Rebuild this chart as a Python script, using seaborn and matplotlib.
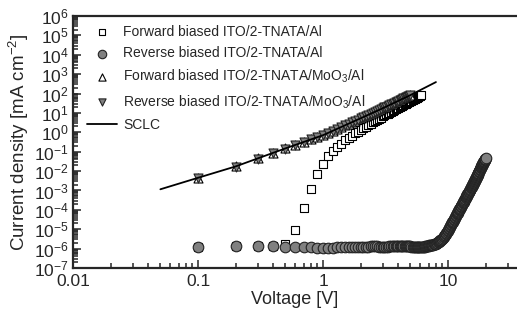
"""
plot.py

Curvas J-V (log-log) de dispositivos ITO/2-TNATA/Al e ITO/2-TNATA/MoO3/Al,
con el ajuste SCLC. Guarda la figura en out.png (517x320 px).
"""

import numpy as np
import matplotlib
matplotlib.use('Agg')
import matplotlib.pyplot as plt
import matplotlib.ticker as mticker
import seaborn as sns

# --- datos (barrido de tension en pasos de 0.1 V) ---

# Forward biased ITO/2-TNATA/Al  (0.1 ... 6.1 V)
j_fwd_al = [1.2e-6, 1.3e-6, 1.3e-6, 1.4e-6, 1.7e-6, 9e-6, 1.2e-4, 1.2e-3, 7e-3, 2.4e-2,
            5.9e-2, 0.11, 0.18, 0.26, 0.38, 0.51, 0.68, 0.87, 1.10, 1.35,
            1.62, 1.95, 2.34, 2.75, 3.24, 3.72, 4.37, 5.0, 5.75, 6.6,
            7.4, 8.3, 9.3, 10.2, 11.5, 12.6, 14.1, 15.5, 17.0, 18.6,
            20.0, 21.9, 24.0, 25.7, 28.2, 30.2, 33.1, 35.5, 38.0, 40.7,
            43.7, 46.8, 50.1, 53.7, 57.5, 61.7, 64.6, 69.2, 74.1, 77.6,
            83.2]

# Reverse biased ITO/2-TNATA/Al  (0.1 ... 20.0 V)
j_rev_al = [1.2e-6, 1.3e-6, 1.3e-6, 1.3e-6, 1.2e-6, 1.2e-6, 1.2e-6, 1.2e-6, 1.1e-6, 1.1e-6,
            1.1e-6, 1.1e-6, 1.2e-6, 1.2e-6, 1.2e-6, 1.2e-6, 1.2e-6, 1.2e-6, 1.2e-6, 1.2e-6,
            1.2e-6, 1.2e-6, 1.2e-6, 1.3e-6, 1.3e-6, 1.3e-6, 1.3e-6, 1.2e-6, 1.2e-6, 1.2e-6,
            1.2e-6, 1.2e-6, 1.2e-6, 1.3e-6, 1.3e-6, 1.3e-6, 1.3e-6, 1.3e-6, 1.3e-6, 1.3e-6,
            1.3e-6, 1.3e-6, 1.4e-6, 1.4e-6, 1.4e-6, 1.4e-6, 1.3e-6, 1.3e-6, 1.3e-6, 1.3e-6,
            1.2e-6, 1.2e-6, 1.2e-6, 1.2e-6, 1.2e-6, 1.2e-6, 1.2e-6, 1.2e-6, 1.2e-6, 1.2e-6,
            1.2e-6, 1.2e-6, 1.2e-6, 1.2e-6, 1.2e-6, 1.3e-6, 1.3e-6, 1.3e-6, 1.3e-6, 1.4e-6,
            1.45e-6, 1.5e-6, 1.5e-6, 1.55e-6, 1.6e-6, 1.6e-6, 1.65e-6, 1.7e-6, 1.75e-6, 1.8e-6,
            1.9e-6, 2.0e-6, 2.1e-6, 2.2e-6, 2.4e-6, 2.5e-6, 2.7e-6, 2.8e-6, 3.0e-6, 3.2e-6,
            3.5e-6, 3.9e-6, 4.3e-6, 4.8e-6, 5.3e-6, 5.9e-6, 6.5e-6, 7.2e-6, 8.0e-6, 8.9e-6,
            1.0e-5, 1.12e-5, 1.26e-5, 1.41e-5, 1.58e-5, 1.78e-5, 2.0e-5, 2.24e-5, 2.5e-5, 2.8e-5,
            3.1e-5, 3.5e-5, 3.8e-5, 4.3e-5, 4.7e-5, 5.2e-5, 5.8e-5, 6.5e-5, 7.2e-5, 7.9e-5,
            8.7e-5, 9.5e-5, 1.05e-4, 1.15e-4, 1.26e-4, 1.38e-4, 1.5e-4, 1.66e-4, 1.8e-4, 2.0e-4,
            2.2e-4, 2.4e-4, 2.6e-4, 2.9e-4, 3.2e-4, 3.5e-4, 3.8e-4, 4.2e-4, 4.6e-4, 5.0e-4,
            5.4e-4, 5.9e-4, 6.4e-4, 6.9e-4, 7.5e-4, 8.1e-4, 8.8e-4, 9.5e-4, 1.04e-3, 1.12e-3,
            1.22e-3, 1.32e-3, 1.43e-3, 1.55e-3, 1.68e-3, 1.82e-3, 1.97e-3, 2.14e-3, 2.3e-3, 2.5e-3,
            2.7e-3, 2.9e-3, 3.2e-3, 3.4e-3, 3.7e-3, 4.0e-3, 4.4e-3, 4.7e-3, 5.1e-3, 5.6e-3,
            6.1e-3, 6.6e-3, 7.1e-3, 7.7e-3, 8.4e-3, 9.1e-3, 9.8e-3, 1.07e-2, 1.16e-2, 1.26e-2,
            1.35e-2, 1.45e-2, 1.55e-2, 1.66e-2, 1.78e-2, 1.9e-2, 2.04e-2, 2.19e-2, 2.34e-2, 2.5e-2,
            2.65e-2, 2.8e-2, 3.0e-2, 3.15e-2, 3.3e-2, 3.55e-2, 3.75e-2, 4.0e-2, 4.2e-2, 4.5e-2]

# Forward / reverse biased ITO/2-TNATA/MoO3/Al  (0.1 ... 5.0 V)
j_fwd_moo3 = [4.5e-3, 1.74e-2, 4.5e-2, 8.7e-2, 0.148, 0.229, 0.324, 0.437, 0.562, 0.708,
              0.93, 1.20, 1.51, 1.87, 2.28, 2.75, 3.3, 3.9, 4.6, 5.3,
              6.1, 6.9, 7.9, 9.0, 10.1, 11.4, 12.7, 14.1, 15.7, 17.4,
              19.2, 21.2, 23.3, 25.5, 27.8, 30.2, 32.9, 35.6, 38.6, 41.7,
              45.0, 48.5, 52.0, 56.0, 60.0, 64.0, 69.0, 73.0, 78.0, 83.0]
j_rev_moo3 = [4.4e-3, 1.72e-2, 4.4e-2, 8.6e-2, 0.145, 0.225, 0.32, 0.43, 0.555, 0.70,
              0.92, 1.19, 1.50, 1.85, 2.26, 2.73, 3.28, 3.88, 4.57, 5.25,
              6.05, 6.85, 7.85, 8.95, 10.0, 11.3, 12.6, 14.0, 15.6, 17.3,
              19.1, 21.0, 23.1, 25.3, 27.6, 30.0, 32.7, 35.4, 38.4, 41.5,
              44.8, 48.2, 51.7, 55.7, 59.6, 63.6, 68.6, 72.6, 77.5, 82.5]

# ajuste SCLC
sclc_v = [0.05, 0.1, 0.2, 0.5, 1, 2, 3, 5, 8]
sclc_j = [1.15e-3, 4.5e-3, 1.74e-2, 0.148, 0.71, 5.3, 17.4, 83, 390]

labels = ['Forward biased ITO/2-TNATA/Al',
          'Reverse biased ITO/2-TNATA/Al',
          'Forward biased ITO/2-TNATA/MoO$_3$/Al',
          'Reverse biased ITO/2-TNATA/MoO$_3$/Al',
          'SCLC']


def sweep(n):
    # tensiones del barrido: 0.1, 0.2, ... (n puntos)
    return np.round(np.arange(1, n + 1) * 0.1, 1)


sns.set_style('ticks')
plt.rcParams['font.family'] = ['Liberation Sans', 'DejaVu Sans']
plt.rcParams['mathtext.fontset'] = 'custom'
plt.rcParams['mathtext.rm'] = 'Liberation Sans'
plt.rcParams['mathtext.it'] = 'Liberation Sans:italic'
plt.rcParams['mathtext.bf'] = 'Liberation Sans:bold'

fig = plt.figure(figsize=(5.17, 3.2), dpi=100)
ax = fig.add_axes([73 / 517, 1 - 268 / 320, 444 / 517, 252 / 320])

sns.scatterplot(x=sweep(len(j_fwd_al)), y=j_fwd_al, marker='s', s=32, color='white',
                edgecolor='black', linewidth=0.8, label=labels[0], ax=ax, zorder=2)
sns.scatterplot(x=sweep(len(j_rev_al)), y=j_rev_al, marker='o', s=58, color='#808080',
                edgecolor='#222222', linewidth=0.8, label=labels[1], ax=ax, zorder=3)
sns.scatterplot(x=sweep(len(j_fwd_moo3)), y=j_fwd_moo3, marker='^', s=42, color='white',
                edgecolor='black', linewidth=0.8, label=labels[2], ax=ax, zorder=4)
sns.scatterplot(x=sweep(len(j_rev_moo3)), y=j_rev_moo3, marker='v', s=42, color='#808080',
                edgecolor='#222222', linewidth=0.8, label=labels[3], ax=ax, zorder=5)
sns.lineplot(x=sclc_v, y=sclc_j, color='black', linewidth=1.3, label=labels[4], ax=ax, zorder=6)

ax.set_xscale('log')
ax.set_yscale('log')
ax.set_xlim(0.01, 35.6)
ax.set_ylim(1e-7, 1e6)

# marcas de escala (decadas y subdivisiones 2..9)
y_major = [10.0 ** e for e in range(-7, 7)]
y_minor = [m * 10.0 ** e for e in range(-7, 6) for m in range(2, 10)]
x_minor = [m * 10.0 ** e for e in range(-2, 2) for m in range(2, 10)]

ax.xaxis.set_major_locator(mticker.FixedLocator([0.01, 0.1, 1, 10]))
ax.xaxis.set_major_formatter(mticker.FuncFormatter(lambda v, p: '%g' % v))
ax.xaxis.set_minor_locator(mticker.FixedLocator(x_minor))
ax.yaxis.set_major_locator(mticker.FixedLocator(y_major))
ax.yaxis.set_major_formatter(mticker.LogFormatterSciNotation())
ax.yaxis.set_minor_locator(mticker.FixedLocator(y_minor))
ax.yaxis.set_minor_formatter(mticker.NullFormatter())
ax.xaxis.set_minor_formatter(mticker.NullFormatter())

ax.tick_params(which='both', direction='in', top=False, right=False, labelsize=12.5, width=1.1)
ax.tick_params(which='major', length=6)
ax.tick_params(which='minor', length=3.5)
ax.tick_params(axis='y', pad=3)
ax.tick_params(axis='x', pad=4)

for side in ['left', 'bottom', 'top']:
    ax.spines[side].set_linewidth(1.6)
ax.spines['right'].set_visible(False)

ax.set_xlabel('Voltage [V]', fontsize=13, labelpad=2)
ax.set_ylabel('Current density [mA cm$^{-2}$]', fontsize=13.5, labelpad=2)

ax.legend(loc='upper left', bbox_to_anchor=(0.032, 0.965), frameon=False, fontsize=10,
          borderpad=0, borderaxespad=0, handlelength=2.15, handletextpad=0.45,
          labelspacing=0.55, markerscale=0.8)

fig.savefig('out.png', dpi=100)
